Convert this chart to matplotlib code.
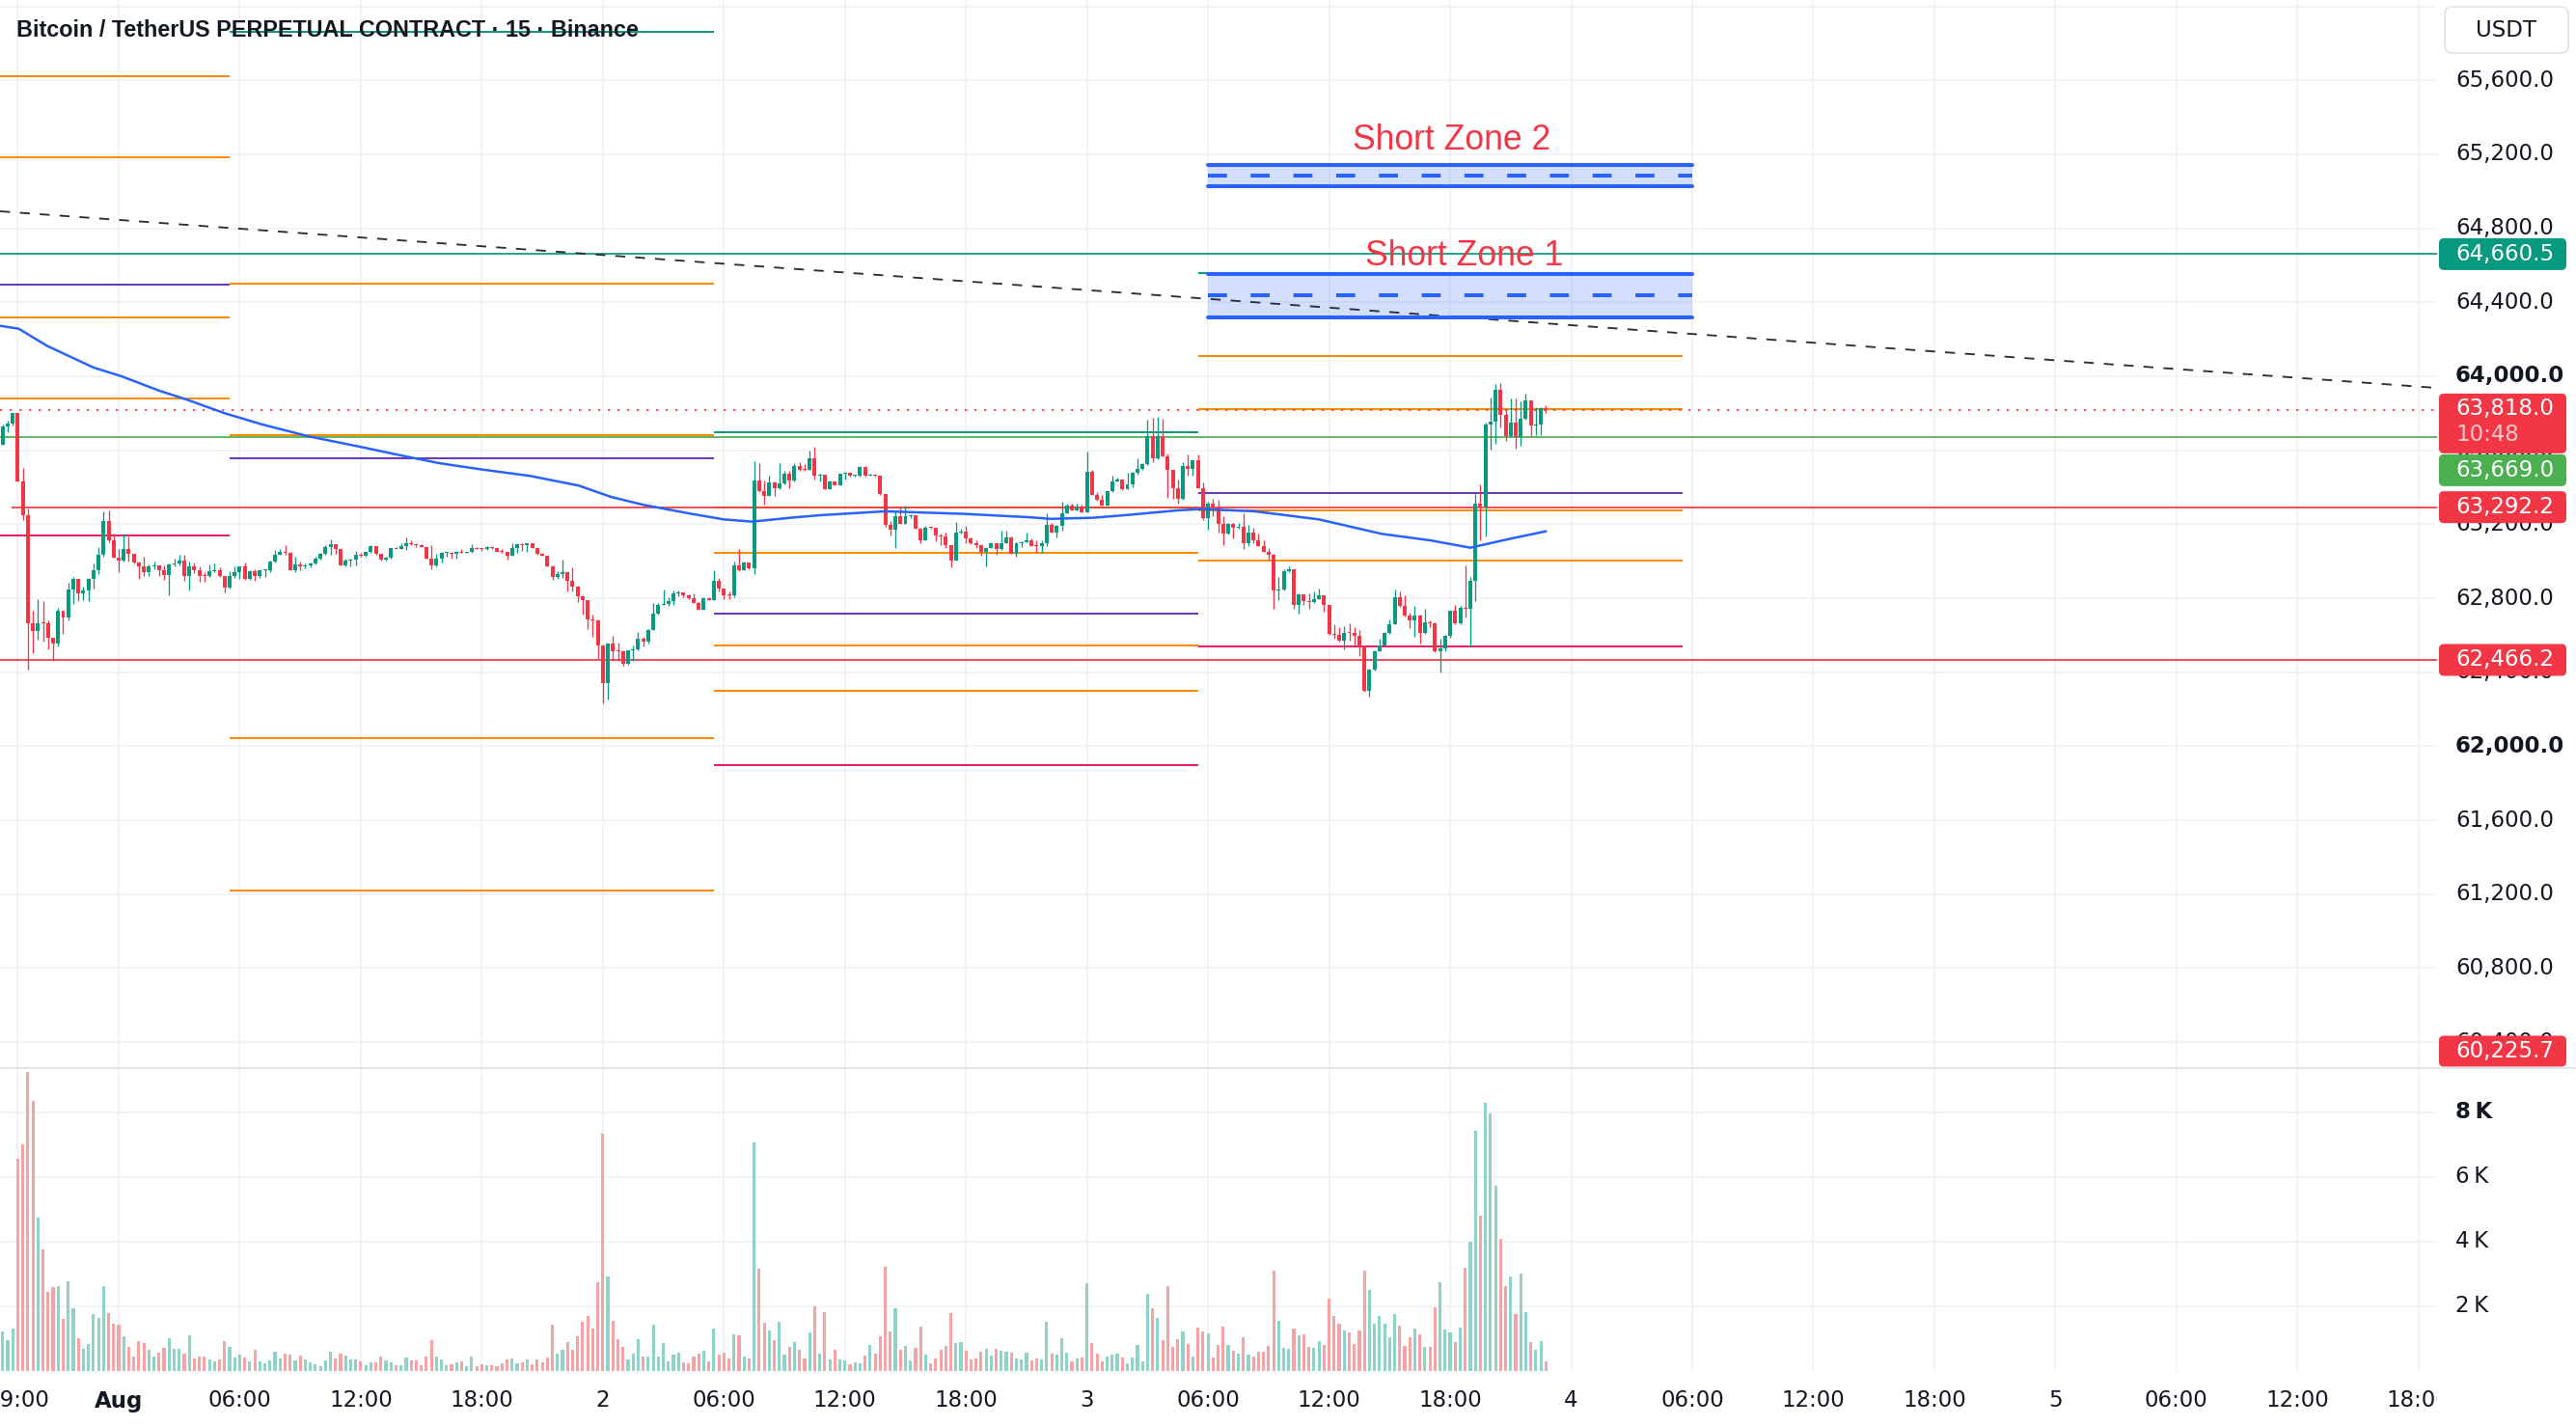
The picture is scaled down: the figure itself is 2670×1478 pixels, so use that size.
import matplotlib
matplotlib.use("Agg")
import matplotlib.pyplot as plt
import numpy as np
from matplotlib.patches import FancyBboxPatch, Rectangle
from matplotlib.transforms import Bbox

plt.rcParams['font.family'] = ['DejaVu Sans']

# ---------------------------------------------------------------- data
TITLE = "Bitcoin / TetherUS PERPETUAL CONTRACT \u00b7 15 \u00b7 Binance"
start_k = -23          # first 15-min bar, counted from Aug 1 00:00
first_open = 63631

close = [
 63730, 63743, 63800, 63430, 63249, 62666, 62621, 62666, 62664, 62588,
 62557, 62730, 62696, 62847, 62904, 62824, 62844, 62904, 62951, 63033,
 63217, 63113, 63021, 63005, 63066, 63038, 62991, 62970, 62943, 62974,
 62977, 62950, 62925, 62981, 62988, 63002, 62922, 62970, 62953, 62922,
 62918, 62944, 62950, 62918, 62856, 62922, 62939, 62970, 62904, 62946,
 62922, 62950, 62953, 62997, 63035, 63049, 63044, 62953, 62983, 62974,
 62979, 62988, 63016, 63040, 63075, 63092, 63064, 62979, 63003, 63009,
 63035, 63031, 63049, 63082, 63038, 63009, 63017, 63070, 63068, 63082,
 63099, 63091, 63085, 63078, 63014, 62979, 63014, 63044, 63045, 63040,
 63052, 63047, 63049, 63070, 63068, 63064, 63075, 63073, 63052, 63049,
 63030, 63070, 63092, 63087, 63096, 63073, 63040, 63031, 62974, 62913,
 62930, 62939, 62896, 62861, 62809, 62790, 62684, 62682, 62543, 62343,
 62553, 62513, 62511, 62444, 62517, 62522, 62583, 62565, 62630, 62717,
 62763, 62769, 62786, 62824, 62830, 62814, 62800, 62774, 62739, 62800,
 62791, 62896, 62852, 62817, 62814, 62979, 62953, 62991, 62960, 63435,
 63377, 63353, 63426, 63395, 63423, 63473, 63435, 63513, 63496, 63492,
 63557, 63461, 63466, 63391, 63431, 63412, 63473, 63478, 63461, 63464,
 63508, 63461, 63466, 63461, 63362, 63197, 63169, 63244, 63204, 63244,
 63249, 63177, 63113, 63183, 63179, 63139, 63134, 63087, 63005, 63157,
 63160, 63122, 63096, 63087, 63052, 63073, 63099, 63064, 63099, 63127,
 63040, 63099, 63104, 63113, 63084, 63082, 63096, 63197, 63157, 63191,
 63261, 63301, 63275, 63292, 63266, 63482, 63360, 63330, 63301, 63377,
 63431, 63444, 63388, 63414, 63478, 63501, 63527, 63678, 63557, 63678,
 63569, 63492, 63395, 63336, 63513, 63499, 63548, 63395, 63235, 63310,
 63296, 63200, 63151, 63200, 63183, 63188, 63099, 63153, 63113, 63084,
 63052, 63035, 62840, 62849, 62944, 62957, 62762, 62821, 62783, 62777,
 62797, 62814, 62762, 62605, 62600, 62570, 62612, 62610, 62595, 62543,
 62301, 62412, 62513, 62543, 62614, 62657, 62805, 62757, 62704, 62678,
 62704, 62612, 62670, 62666, 62513, 62530, 62595, 62730, 62664, 62748,
 62744, 62896, 63313, 63296, 63739, 63753, 63927, 63791, 63678, 63748,
 63670, 63770, 63870, 63736, 63739, 63830, 63818]

high = [
 63739, 63760, 63804, 63800, 63504, 63287, 62730, 62795, 62783, 62682,
 62588, 62748, 62730, 62884, 62913, 62904, 62861, 62908, 62988, 63078,
 63270, 63275, 63148, 63066, 63148, 63136, 63038, 63000, 63026, 62983,
 63000, 62977, 62977, 62988, 63012, 63035, 63035, 62997, 62991, 62974,
 62939, 62983, 62986, 62965, 62922, 62948, 62970, 62974, 62995, 62950,
 62957, 62953, 62957, 63005, 63061, 63066, 63087, 63050, 63026, 63000,
 62988, 62991, 63026, 63044, 63087, 63118, 63092, 63064, 63012, 63012,
 63056, 63044, 63049, 63087, 63082, 63038, 63023, 63073, 63075, 63096,
 63131, 63113, 63099, 63091, 63070, 63087, 63040, 63049, 63052, 63047,
 63057, 63064, 63052, 63092, 63075, 63070, 63082, 63077, 63073, 63068,
 63052, 63099, 63096, 63096, 63099, 63096, 63073, 63044, 63031, 62977,
 62948, 63009, 62943, 62965, 62870, 62817, 62790, 62713, 62684, 62548,
 62557, 62595, 62560, 62517, 62518, 62543, 62617, 62591, 62635, 62774,
 62774, 62847, 62805, 62840, 62840, 62831, 62821, 62826, 62777, 62803,
 62803, 62951, 62908, 62852, 62838, 62997, 63066, 63000, 62991, 63539,
 63530, 63435, 63461, 63431, 63530, 63487, 63487, 63530, 63536, 63525,
 63597, 63617, 63473, 63466, 63435, 63431, 63473, 63482, 63470, 63468,
 63513, 63513, 63473, 63470, 63461, 63362, 63217, 63270, 63292, 63301,
 63252, 63249, 63183, 63191, 63186, 63174, 63148, 63157, 63087, 63214,
 63174, 63191, 63131, 63113, 63091, 63078, 63104, 63099, 63165, 63165,
 63136, 63104, 63110, 63157, 63125, 63113, 63113, 63257, 63209, 63197,
 63322, 63313, 63313, 63310, 63304, 63591, 63492, 63374, 63357, 63377,
 63461, 63452, 63444, 63478, 63483, 63557, 63530, 63765, 63774, 63779,
 63770, 63583, 63496, 63444, 63534, 63579, 63548, 63579, 63426, 63322,
 63336, 63330, 63244, 63209, 63209, 63209, 63261, 63195, 63183, 63151,
 63113, 63070, 63038, 62913, 62957, 62974, 62957, 62826, 62821, 62826,
 62835, 62852, 62817, 62765, 62661, 62644, 62647, 62666, 62644, 62626,
 62543, 62417, 62518, 62579, 62617, 62685, 62847, 62835, 62814, 62722,
 62757, 62713, 62744, 62678, 62670, 62583, 62600, 62730, 62765, 62757,
 62977, 62913, 63365, 63417, 63748, 63887, 63957, 63965, 63826, 63878,
 63878, 63864, 63904, 63870, 63835, 63835, 63844]

low = [
 63631, 63696, 63736, 63430, 63221, 62412, 62504, 62577, 62565, 62525,
 62461, 62539, 62609, 62678, 62770, 62783, 62791, 62783, 62852, 62930,
 63026, 63104, 63017, 62939, 63000, 63000, 62988, 62904, 62922, 62918,
 62957, 62922, 62901, 62817, 62970, 62977, 62896, 62840, 62934, 62890,
 62890, 62913, 62939, 62913, 62830, 62852, 62908, 62904, 62901, 62901,
 62892, 62908, 62913, 62939, 62991, 63033, 63035, 62951, 62939, 62953,
 62963, 62965, 62983, 63009, 63035, 63035, 63040, 62979, 62970, 62974,
 62979, 63026, 63026, 63047, 63035, 63005, 63005, 63016, 63064, 63066,
 63061, 63085, 63075, 63075, 63014, 62957, 62974, 62991, 63026, 63014,
 63012, 63044, 63044, 63044, 63064, 63057, 63061, 63068, 63049, 63047,
 63009, 63030, 63044, 63057, 63052, 63070, 63037, 63028, 62970, 62901,
 62904, 62908, 62838, 62835, 62777, 62710, 62635, 62591, 62470, 62230,
 62252, 62461, 62461, 62435, 62440, 62461, 62518, 62539, 62557, 62626,
 62713, 62762, 62757, 62765, 62809, 62805, 62797, 62772, 62737, 62737,
 62788, 62788, 62838, 62797, 62797, 62805, 62948, 62953, 62957, 62930,
 63374, 63304, 63353, 63353, 63391, 63417, 63397, 63431, 63487, 63489,
 63492, 63440, 63431, 63388, 63391, 63409, 63409, 63440, 63459, 63456,
 63457, 63457, 63461, 63457, 63357, 63188, 63139, 63070, 63200, 63200,
 63235, 63176, 63099, 63113, 63174, 63108, 63087, 63073, 62965, 63005,
 63148, 63096, 63091, 63070, 63030, 62974, 63070, 63035, 63061, 63096,
 63038, 63026, 63078, 63101, 63082, 63044, 63047, 63084, 63155, 63131,
 63165, 63259, 63273, 63273, 63264, 63266, 63357, 63329, 63299, 63301,
 63374, 63430, 63386, 63388, 63400, 63470, 63496, 63522, 63536, 63553,
 63565, 63344, 63339, 63310, 63330, 63461, 63461, 63393, 63221, 63170,
 63244, 63157, 63087, 63144, 63122, 63174, 63064, 63084, 63096, 63082,
 63049, 63009, 62744, 62788, 62840, 62939, 62744, 62717, 62765, 62744,
 62776, 62797, 62727, 62603, 62583, 62565, 62522, 62570, 62543, 62487,
 62296, 62270, 62409, 62513, 62543, 62609, 62657, 62751, 62699, 62640,
 62591, 62553, 62609, 62644, 62510, 62400, 62513, 62588, 62661, 62661,
 62696, 62539, 62783, 63113, 63136, 63603, 63635, 63722, 63649, 63673,
 63609, 63626, 63765, 63678, 63684, 63684, 63800]

volume = [
 1218, 950, 1317, 6564, 7009, 9266, 8346, 4752, 3772, 2435,
 2584, 2614, 1604, 2762, 1931, 1010, 683, 832, 1752, 1634,
 2614, 1782, 1455, 1426, 1069, 743, 446, 921, 861, 653,
 446, 564, 713, 1010, 683, 683, 535, 1099, 386, 446,
 446, 356, 297, 356, 921, 743, 416, 505, 416, 297,
 653, 297, 238, 327, 594, 386, 535, 505, 327, 475,
 356, 267, 208, 149, 327, 594, 386, 535, 475, 356,
 356, 297, 178, 267, 267, 446, 327, 267, 178, 178,
 416, 327, 327, 178, 446, 950, 446, 356, 178, 208,
 267, 297, 149, 446, 149, 208, 178, 178, 149, 238,
 356, 386, 238, 267, 356, 208, 356, 267, 416, 1426,
 535, 653, 891, 653, 1069, 1515, 1693, 1307, 2732, 7336,
 2940, 1544, 980, 743, 356, 535, 980, 446, 446, 1426,
 446, 861, 297, 505, 564, 267, 238, 446, 535, 624,
 297, 1307, 505, 564, 386, 1129, 1099, 446, 386, 7069,
 3178, 1485, 1247, 950, 1515, 505, 743, 891, 653, 386,
 1188, 1990, 535, 1812, 356, 653, 356, 327, 208, 267,
 238, 475, 802, 535, 1069, 3237, 1218, 1931, 653, 772,
 327, 713, 1366, 505, 238, 386, 653, 772, 1782, 861,
 891, 624, 356, 386, 594, 683, 475, 683, 624, 594,
 564, 386, 356, 564, 327, 386, 356, 1515, 535, 505,
 1010, 564, 297, 386, 416, 2703, 861, 535, 297, 446,
 505, 535, 416, 238, 416, 802, 297, 2376, 1931, 1634,
 950, 2614, 743, 980, 1218, 832, 446, 1337, 1218, 1158,
 416, 802, 1366, 802, 624, 535, 1040, 505, 446, 594,
 594, 772, 3119, 1544, 713, 683, 1307, 1099, 1129, 743,
 713, 921, 802, 2228, 1693, 1455, 1247, 1188, 832, 1247,
 3119, 2495, 1455, 1693, 1455, 1040, 1752, 1396, 772, 1040,
 1307, 1129, 743, 743, 1960, 2732, 1277, 1188, 891, 1337,
 3208, 4010, 7425, 4811, 8286, 7960, 5732, 4099, 2614, 2911,
 1752, 3000, 1812, 891, 653, 921, 297]

# moving average (hours from Aug 1 00:00, price)
ma_t = [-5.88, -4.95, -3.56, -1.24, 0.14, 2.01, 3.40, 5.26, 7.13, 9.42, 12.0,
        14.3, 15.9, 18.0, 20.4, 22.8, 24.4, 26.0, 28.4, 30.0, 31.4, 33.3,
        34.8, 38.0, 41.9, 45.1, 46.2, 48.3, 49.9, 52.5, 53.7, 56.3, 59.5,
        62.6, 65.0, 67.0, 69.0, 70.75]
ma_p = [64273, 64257, 64165, 64047, 64000, 63922, 63873, 63800, 63739, 63675,
        63618, 63565, 63530, 63496, 63461, 63409, 63348, 63305, 63256, 63226,
        63214, 63235, 63249, 63270, 63256, 63238, 63229, 63235, 63249, 63275,
        63282, 63270, 63226, 63148, 63113, 63073, 63122, 63162]

# dashed trend line
trend_t = [-5.88, 114.92]
trend_p = [64892, 63937]

# daily level lines (session boundaries in hours)
seg_bounds = [-8.0, 5.5, 29.5, 53.5, 77.5]
lv_day1 = [65622, 65184, 64497, 64320, 63882, 63141]
lv_day1_kind = ['o', 'o', 'p', 'o', 'o', 'm']
lv_day2 = [65864, 64502, 63683, 63558, 62046, 61220]
lv_day2_kind = ['t', 'o', 'o', 'p', 'o', 'o']
lv_day3 = [63699, 63289, 63044, 62718, 62546, 62301, 61895]
lv_day3_kind = ['t', 'o', 'o', 'p', 'o', 'o', 'm']
lv_day4 = [64560, 64107, 63824, 63370, 63276, 63005, 62541]
lv_day4_kind = ['t', 'o', 'o', 'p', 'o', 'o', 'm']

# horizontal lines reaching the price scale
full_price = [64660.5, 63669.0, 63292.2, 62466.2]
full_kind = ['t', 'g', 'r', 'r']
full_start = [-8.0, -8.0, -5.3, -8.0]

current_price = 63818.0
countdown = "10:48"
clamped_price = 60225.7

# short zones: t0, t1, bottom, top, mid
zone_t = [54.0, 78.0]
zone1 = [64320, 64554, 64440]
zone2 = [65029, 65144, 65087]
zone_labels = ["Short Zone 1", "Short Zone 2"]
zone_label_t = [66.7, 66.05]
zone_label_p = [64652, 65278]

time_ticks = [-5, 0, 6, 12, 18, 24, 30, 36, 42, 48, 54, 60, 66, 72, 78,
              84, 90, 96, 102, 108, 114]
time_labels = ["19:00", "Aug", "06:00", "12:00", "18:00", "2", "06:00",
               "12:00", "18:00", "3", "06:00", "12:00", "18:00", "4",
               "06:00", "12:00", "18:00", "5", "06:00", "12:00", "18:00"]
price_ticks = [60400, 60800, 61200, 61600, 62000, 62400, 62800, 63200,
               63600, 64000, 64400, 64800, 65200, 65600]
bold_prices = [64000, 62000]
vol_ticks = [2000, 4000, 6000, 8000]

# ---------------------------------------------------------------- style
W, H, DPI = 2670, 1478, 100
PR = 2526                       # right edge of plotting area (px)
PANE_SPLIT, VOL_BOT = 1107, 1421
PX_PER_H = 20.91
T_ORIGIN_PX = 123.0
P_TOP, P_BOT = 66034.6, 60259.4
V_TOP = 9373

UP, DN = '#089981', '#F23645'
VUP, VDN = '#8ED2C8', '#F5A3A5'
COL = {'o': '#FB8C00', 'p': '#673AB7', 't': '#089981', 'm': '#E91E63',
       'g': '#4CAF50', 'r': '#F23645'}
GRID = '#F0F1F3'
TXT = '#131722'
FS = 16.5

fig = plt.figure(figsize=(W / DPI, H / DPI), dpi=DPI)
fig.patch.set_facecolor('white')
ax = fig.add_axes([0, 1 - PANE_SPLIT / H, PR / W, PANE_SPLIT / H])
axv = fig.add_axes([0, 1 - VOL_BOT / H, PR / W, (VOL_BOT - PANE_SPLIT) / H])
X0 = -T_ORIGIN_PX / PX_PER_H
X1 = (PR - T_ORIGIN_PX) / PX_PER_H
for a in (ax, axv):
    a.set_xlim(X0, X1)
    a.set_axis_off()
ax.set_ylim(P_BOT, P_TOP)
axv.set_ylim(0, V_TOP)

# grid
for tt in time_ticks:
    ax.axvline(tt, color=GRID, lw=1.1, zorder=0)
    axv.axvline(tt, color=GRID, lw=1.1, zorder=0)
for p in price_ticks + [66000]:
    ax.axhline(p, color=GRID, lw=1.1, zorder=0)
for v in vol_ticks:
    axv.axhline(v, color=GRID, lw=1.1, zorder=0)

# candles
c = np.array(close, float)
hi = np.array(high, float)
lo = np.array(low, float)
o = np.r_[first_open, c[:-1]]
hi = np.maximum(hi, np.maximum(o, c))
lo = np.minimum(lo, np.minimum(o, c))
t = (start_k + np.arange(len(c))) * 0.25
up = c >= o
ccol = np.where(up, UP, DN)
ax.vlines(t, lo, hi, colors=ccol, lw=0.95, zorder=5)
ax.bar(t, np.maximum(np.abs(c - o), 5), bottom=np.minimum(o, c), width=0.19,
       color=ccol, lw=0, zorder=5)

# volume
axv.bar(t, volume, width=0.15, color=np.where(up, VUP, VDN), lw=0, zorder=3)

# level lines
for prices, kinds, s0, s1 in zip([lv_day1, lv_day2, lv_day3, lv_day4],
                                 [lv_day1_kind, lv_day2_kind, lv_day3_kind, lv_day4_kind],
                                 seg_bounds[:-1], seg_bounds[1:]):
    for p, k in zip(prices, kinds):
        ax.hlines(p, s0, s1, color=COL[k], lw=1.45, zorder=3)
for p, k, s0 in zip(full_price, full_kind, full_start):
    ax.hlines(p, s0, X1 + 1, color=COL[k], lw=1.25, zorder=3)

# current price dotted line
ax.axhline(current_price, color=DN, lw=1.2, ls=(0, (1.4, 4.6)), zorder=3)

# trend line
ax.plot(trend_t, trend_p, color='#2A2E39', lw=1.35, ls=(0, (5.5, 5.5)), zorder=4)

# moving average
ax.plot(ma_t, ma_p, color='#2962FF', lw=1.8, zorder=6, solid_capstyle='round')

# short zones
for z in (zone1, zone2):
    ax.add_patch(Rectangle((zone_t[0], z[0]), zone_t[1] - zone_t[0], z[1] - z[0],
                           facecolor='#2962FF', alpha=0.2, lw=0, zorder=2))
    ax.hlines([z[0], z[1]], zone_t[0], zone_t[1], color='#2962FF', lw=2.9,
              capstyle='round', zorder=4)
    ax.hlines(z[2], zone_t[0], zone_t[1], color='#2962FF', lw=2.9,
              linestyles=(0, (4.9, 6.1)), zorder=4)
for lab, lt, lp in zip(zone_labels, zone_label_t, zone_label_p):
    ax.text(lt, lp, lab, color=DN, fontsize=25.6, ha='center', va='center',
            family=['Liberation Sans', 'DejaVu Sans'], zorder=8)

# ---------------------------------------------------------------- overlay (pixels)
ov = fig.add_axes([0, 0, 1, 1], zorder=10)
ov.set_xlim(0, W)
ov.set_ylim(H, 0)
ov.set_axis_off()


def ypix(price):
    return H - ax.transData.transform((0, price))[1]


def ypixv(v):
    return H - axv.transData.transform((0, v))[1]


def xpix(tt):
    return ax.transData.transform((tt, 0))[0]


# pane separator
ov.axhline(PANE_SPLIT, color='#E0E3EB', lw=1.3)

# price scale labels
LX = 2545
for p in price_ticks:
    ov.text(LX, ypix(p), f"{p:,.1f}", fontsize=FS, color=TXT, ha='left',
            va='center', fontweight='bold' if p in bold_prices else 'normal')
for v in vol_ticks:
    ov.text(LX, ypixv(v), f"{v // 1000}\u2009K", fontsize=FS, color=TXT,
            ha='left', va='center', fontweight='bold' if v == 8000 else 'normal')


def tag(top, h, color):
    ov.add_patch(FancyBboxPatch((2528, top), 132, h,
                                boxstyle='round,pad=0,rounding_size=5',
                                fc=color, ec='none', zorder=5))


def tag_text(y, s, alpha=1.0):
    ov.text(LX, y, s, fontsize=FS, color='white', alpha=alpha, ha='left',
            va='center', zorder=6)


yc = ypix(full_price[0])
tag(yc - 16.5, 33, COL['t'])
tag_text(yc, f"{full_price[0]:,.1f}")

yc = ypix(current_price)
red_top = yc - 17
tag(red_top, 62, DN)
tag_text(yc - 1.5, f"{current_price:,.1f}")
tag_text(yc + 26, countdown, alpha=0.72)

g_top = red_top + 63
tag(g_top, 33, COL['g'])
tag_text(g_top + 16.5, f"{full_price[1]:,.1f}")

for p in full_price[2:]:
    yc = ypix(p)
    tag(yc - 16.5, 33, DN)
    tag_text(yc, f"{p:,.1f}")

b_top = PANE_SPLIT - 33.5
tag(b_top, 32, DN)
tag_text(b_top + 16, f"{clamped_price:,.1f}")

# currency box
ov.add_patch(FancyBboxPatch((2534, 7), 128, 48,
                            boxstyle='round,pad=0,rounding_size=8',
                            fc='white', ec='#E0E3EB', lw=1.2, zorder=5))
ov.text(2598, 31, "USDT", fontsize=FS, color=TXT, ha='center', va='center', zorder=6)

# time axis labels (clipped at the plotting area's right edge)
clip = Bbox([[0, 0], [PR, 60]])
for tt, lab in zip(time_ticks, time_labels):
    tx = ov.text(xpix(tt), 1452, lab, fontsize=FS, color=TXT, ha='center',
                 va='center', fontweight='bold' if lab == 'Aug' else 'normal')
    tx.set_clip_box(clip)
    tx.set_clip_on(True)

# title
ov.text(17, 32, TITLE, fontsize=16.8, fontweight='bold', color=TXT, ha='left',
        va='center', family=['Liberation Sans', 'DejaVu Sans'], zorder=7)

fig.savefig("out.png", dpi=DPI, facecolor='white')
